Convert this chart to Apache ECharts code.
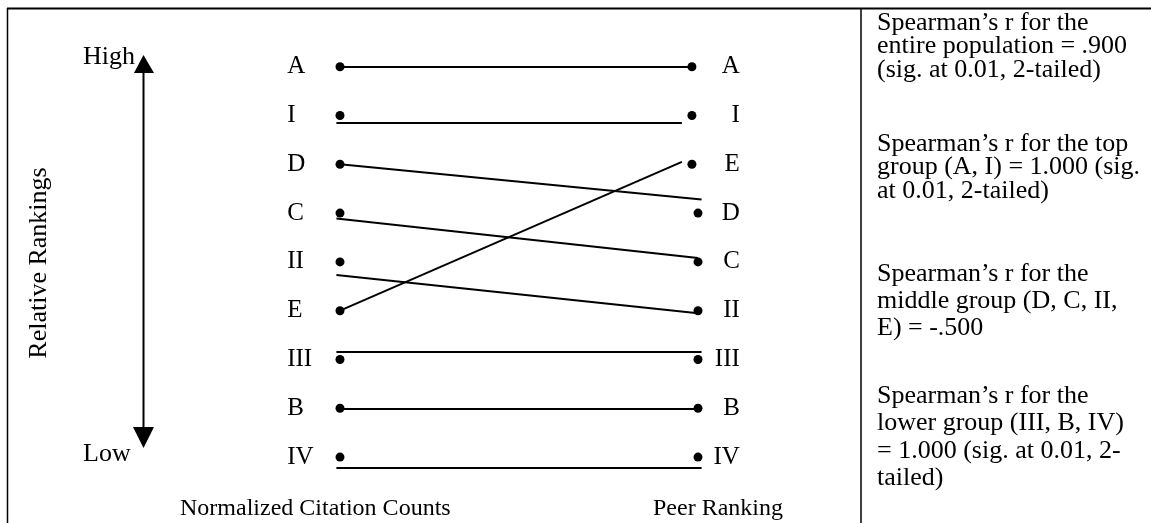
<!DOCTYPE html>
<html>
<head>
<meta charset="utf-8">
<script src="https://cdn.jsdelivr.net/npm/echarts@6/dist/echarts.min.js"></script>
<style>
  html, body { margin: 0; padding: 0; background: #fff; }
  #chart { width: 1151px; height: 523px; }
</style>
</head>
<body>
<div id="chart"></div>
<script>
// rank 1 = high, 9 = low
var ranks = [1, 2, 3, 4, 5, 6, 7, 8, 9];
var citationOrder = ['A', 'I', 'D', 'C', 'II', 'E', 'III', 'B', 'IV'];
var peerOrder = ['A', 'I', 'E', 'D', 'C', 'II', 'III', 'B', 'IV'];
// horizontal position of the dots (0 = citation column, 1 = peer column)
var citationX = [0, 0, 0, 0, 0, 0, 0, 0, 0];
var peerX = [0.983, 0.983, 0.983, 1, 1, 1, 1, 1, 1];
// connectors as drawn in the figure: [x0, rank0, x1, rank1]
var links = [
  [0, 1, 0.983, 1],          // A
  [-0.01, 2.15, 0.955, 2.15], // I
  [0, 3, 1.01, 3.72],        // D
  [-0.01, 4.11, 1, 4.92],    // C
  [-0.01, 5.27, 1, 6.05],    // II
  [0, 6, 0.955, 2.95],       // E
  [-0.01, 6.84, 1.01, 6.84], // III
  [0, 8, 1, 8],              // B
  [-0.01, 9.21, 1.01, 9.21]  // IV
];
var columnTitles = ['Normalized Citation Counts', 'Peer Ranking'];
var notes = [
  'Spearman\u2019s r for the\nentire population = .900\n(sig. at 0.01, 2-tailed)',
  'Spearman\u2019s r for the top\ngroup (A, I) = 1.000 (sig.\nat 0.01, 2-tailed)',
  'Spearman\u2019s r for the\nmiddle group (D, C, II,\nE) = -.500',
  'Spearman\u2019s r for the\nlower group (III, B, IV)\n= 1.000 (sig. at 0.01, 2-\ntailed)'
];

var serif = '"Liberation Serif", "Times New Roman", serif';
var ink = '#000';

var chart = echarts.init(document.getElementById('chart'));

function txt(x, y, text, size, extra) {
  var el = {
    type: 'text', x: x, y: y, silent: true,
    style: {
      text: text, fill: ink, fontFamily: serif, fontSize: size,
      textAlign: 'left', textVerticalAlign: 'middle'
    }
  };
  if (extra) {
    for (var k in extra) el.style[k] = extra[k];
  }
  return el;
}

function seg(x1, y1, x2, y2, w) {
  return {
    type: 'line', silent: true,
    shape: { x1: x1, y1: y1, x2: x2, y2: y2 },
    style: { stroke: ink, lineWidth: w }
  };
}

var rankAxis = {
  type: 'value',
  inverse: true,
  min: 0.5,
  max: 9.5,
  axisLine: { show: false },
  axisTick: { show: false },
  splitLine: { show: false },
  axisLabel: {
    customValues: ranks,
    color: ink,
    fontFamily: serif,
    fontSize: 25
  }
};

chart.setOption({
  animation: false,
  backgroundColor: '#fff',
  grid: { left: 304.2, right: 417.2, top: 42.3, bottom: 41.5 },
  xAxis: { type: 'value', min: -0.1, max: 1.1, show: false },
  yAxis: [
    echarts.util.merge({
      position: 'left',
      axisLabel: {
        align: 'left', margin: 17,
        formatter: function (v) { return citationOrder[Math.round(v) - 1]; }
      }
    }, rankAxis),
    echarts.util.merge({
      position: 'right',
      axisLabel: {
        align: 'right', margin: 6,
        formatter: function (v) { return peerOrder[Math.round(v) - 1]; }
      }
    }, rankAxis)
  ],
  series: [
    {
      type: 'lines',
      coordinateSystem: 'cartesian2d',
      clip: false,
      lineStyle: { color: ink, width: 2, opacity: 1 },
      data: links.map(function (l) {
        return { coords: [[l[0], l[1]], [l[2], l[3]]] };
      })
    },
    {
      type: 'scatter',
      symbolSize: 9,
      itemStyle: { color: ink, opacity: 1 },
      data: ranks.map(function (r, i) { return [citationX[i], r]; })
    },
    {
      type: 'scatter',
      symbolSize: 9,
      itemStyle: { color: ink, opacity: 1 },
      data: ranks.map(function (r, i) { return [peerX[i], r]; })
    }
  ],
  graphic: [
    // frame
    seg(7, 8.5, 1151, 8.5, 2),
    seg(7.5, 8, 7.5, 523, 1.5),
    seg(861, 8, 861, 523, 1.5),
    // high / low arrow
    seg(143.5, 72, 143.5, 428, 2),
    { type: 'polygon', silent: true, shape: { points: [[143.5, 55], [134, 73], [154, 73]] }, style: { fill: ink } },
    { type: 'polygon', silent: true, shape: { points: [[133, 427], [154, 427], [143.5, 448]] }, style: { fill: ink } },
    txt(83, 57, 'High', 26),
    txt(83, 454, 'Low', 26),
    {
      type: 'text', x: 39, y: 263, rotation: Math.PI / 2, silent: true,
      style: {
        text: 'Relative Rankings', fill: ink, fontFamily: serif, fontSize: 26,
        textAlign: 'center', textVerticalAlign: 'middle'
      }
    },
    txt(180, 509, columnTitles[0], 24),
    txt(653, 509, columnTitles[1], 24),
    // notes
    txt(877, 11, notes[0], 26, { textVerticalAlign: 'top', lineHeight: 23.5 }),
    txt(877, 132, notes[1], 26, { textVerticalAlign: 'top', lineHeight: 23.5 }),
    txt(877, 261, notes[2], 26, { textVerticalAlign: 'top', lineHeight: 27 }),
    txt(877, 382, notes[3], 26, { textVerticalAlign: 'top', lineHeight: 27.5 })
  ]
});
</script>
</body>
</html>
